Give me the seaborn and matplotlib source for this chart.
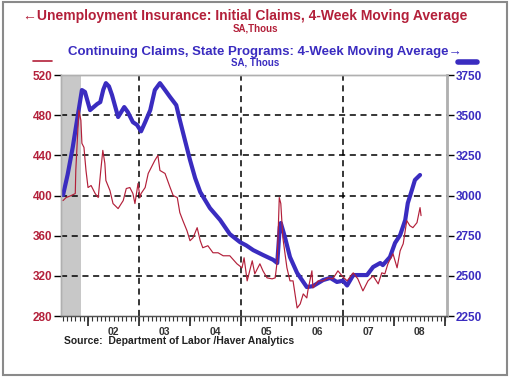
import numpy as np
import pandas as pd
import matplotlib
matplotlib.use("Agg")
import matplotlib.pyplot as plt
import seaborn as sns
from matplotlib.ticker import FixedLocator, MultipleLocator, NullFormatter

# Initial claims, 4-week moving average (thous, left axis), dates as decimal years
initial_dates = [
    2001.51, 2001.57, 2001.67, 2001.75, 2001.76, 2001.82, 2001.86, 2001.88, 2001.92, 2001.96,
    2002.00, 2002.06, 2002.14, 2002.20, 2002.25, 2002.29, 2002.33, 2002.35, 2002.43, 2002.49,
    2002.59, 2002.69, 2002.75, 2002.82, 2002.88, 2002.92, 2002.98, 2003.02, 2003.04, 2003.12,
    2003.18, 2003.24, 2003.31, 2003.37, 2003.41, 2003.51, 2003.61, 2003.67, 2003.75, 2003.80,
    2003.86, 2003.94, 2004.00, 2004.06, 2004.14, 2004.20, 2004.25, 2004.35, 2004.45, 2004.55,
    2004.65, 2004.78, 2004.92, 2005.02, 2005.06, 2005.12, 2005.22, 2005.27, 2005.37, 2005.43,
    2005.51, 2005.61, 2005.67, 2005.71, 2005.75, 2005.78, 2005.82, 2005.90, 2005.96, 2006.02,
    2006.10, 2006.16, 2006.22, 2006.29, 2006.31, 2006.39, 2006.41, 2006.51, 2006.61, 2006.71,
    2006.80, 2006.90, 2006.98, 2007.08, 2007.20, 2007.29, 2007.39, 2007.49, 2007.59, 2007.69,
    2007.76, 2007.82, 2007.88, 2007.98, 2008.06, 2008.12, 2008.18, 2008.25, 2008.31, 2008.37,
    2008.45, 2008.51, 2008.53,
]
initial_claims = [
    395, 398, 400, 402, 425, 485, 475, 452, 448, 425,
    408, 410, 402, 398, 425, 445, 432, 415, 405, 392,
    387, 395, 407, 408, 402, 392, 412, 398, 402, 408,
    422, 428, 435, 440, 425, 422, 408, 400, 398, 383,
    375, 365, 355, 358, 368, 355, 348, 350, 343, 343,
    340, 340, 332, 328, 338, 315, 335, 322, 332, 325,
    318, 317, 318, 335, 398, 392, 358, 328, 315, 315,
    288, 292, 302, 298, 305, 325, 308, 315, 315, 318,
    317, 325, 320, 315, 323, 317, 305, 315, 320, 312,
    323, 322, 332, 342, 328, 345, 352, 375, 370, 368,
    373, 388, 380,
]

# Continuing claims, state programs, 4-week moving average (thous, right axis)
continuing_dates = [
    2001.51, 2001.60, 2001.70, 2001.80, 2001.88, 2001.94, 2002.04, 2002.18, 2002.24, 2002.30,
    2002.35, 2002.41, 2002.47, 2002.59, 2002.71, 2002.78, 2002.88, 2002.96, 2003.04, 2003.12,
    2003.22, 2003.31, 2003.41, 2003.51, 2003.61, 2003.73, 2003.80, 2003.90, 2004.00, 2004.10,
    2004.20, 2004.39, 2004.59, 2004.78, 2004.98, 2005.10, 2005.24, 2005.43, 2005.63, 2005.71,
    2005.76, 2005.78, 2005.86, 2005.96, 2006.10, 2006.29, 2006.41, 2006.61, 2006.75, 2006.88,
    2007.00, 2007.08, 2007.20, 2007.47, 2007.59, 2007.73, 2007.78, 2007.92, 2008.02, 2008.12,
    2008.22, 2008.27, 2008.35, 2008.41, 2008.51,
]
continuing_claims = [
    3003, 3130, 3300, 3500, 3657, 3645, 3532, 3570, 3582, 3660,
    3700, 3680, 3626, 3489, 3551, 3520, 3457, 3440, 3400, 3457,
    3532, 3657, 3700, 3657, 3613, 3563, 3470, 3345, 3221, 3109,
    3022, 2922, 2848, 2760, 2710, 2690, 2660, 2630, 2600, 2580,
    2804, 2829, 2742, 2617, 2518, 2430, 2436, 2474, 2487, 2462,
    2470, 2440, 2505, 2505, 2555, 2580, 2567, 2617, 2705, 2754,
    2848, 2953, 3034, 3097, 3128,
]

recession = (2001.17, 2001.86)
year_labels = ["02", "03", "04", "05", "06", "07", "08"]
left_ticks = [280, 320, 360, 400, 440, 480, 520]
right_ticks = [2250, 2500, 2750, 3000, 3250, 3500, 3750]

red = "#b3203a"
blue = "#3a2cc0"

sns.set_style("white")
plt.rcParams["font.family"] = ["Liberation Sans", "DejaVu Sans"]

df_init = pd.DataFrame({"date": initial_dates, "claims": initial_claims})
df_cont = pd.DataFrame({"date": continuing_dates, "claims": continuing_claims})

fig = plt.figure(figsize=(5.1, 3.77), dpi=100)
ax = fig.add_axes([0.1196, 0.1618, 0.757, 0.639])
ax2 = ax.twinx()
ax.set_zorder(ax2.get_zorder() + 1)
ax.patch.set_visible(False)

sns.lineplot(data=df_cont, x="date", y="claims", ax=ax2, color=blue, lw=3.0, zorder=3)
sns.lineplot(data=df_init, x="date", y="claims", ax=ax, color=red, lw=0.85, zorder=4)

ax.set_xlim(2001.47, 2009.04)
ax.set_ylim(280, 520)
ax2.set_ylim(2250, 3750)
ax.set_xlabel("")
ax.set_ylabel("")
ax2.set_ylabel("")

# background elements on the lower (right-scale) axes
ax2.axvspan(*recession, color="#c8c8c8", lw=0, zorder=0)
for yv in right_ticks[1:-1]:
    ax2.axhline(yv, color="black", lw=1.1, ls=(0, (4, 3)), zorder=1)
for xv in [2003, 2005, 2007]:
    ax2.axvline(xv, color="black", lw=1.1, ls=(0, (4, 3)), zorder=1)

ax.set_yticks(left_ticks)
ax2.set_yticks(right_ticks)
ax.tick_params(axis="y", left=True, colors="black", labelcolor=red, labelsize=8.5, length=5, width=1, pad=1)
ax2.tick_params(axis="y", right=True, colors="black", labelcolor=blue, labelsize=8.5, length=5, width=1, pad=1)
for lab in ax.get_yticklabels():
    lab.set_fontweight("bold")
for lab in ax2.get_yticklabels():
    lab.set_fontweight("bold")

for i, lab in enumerate(year_labels):
    ax.text(2002.5 + i, -0.045, lab, transform=ax.get_xaxis_transform(), ha="center", va="top",
            fontsize=7.5, color="#333333", fontweight="bold")

for a in (ax, ax2):
    for side, sp in a.spines.items():
        sp.set_color("#b0b0b0")
        sp.set_linewidth(1.0)
ax2.spines["right"].set_linewidth(2)
ax.spines["bottom"].set_color("#555555")
ax2.spines["bottom"].set_visible(False)

# x axis: year boundaries as long ticks, months as short ticks (secondary axis), labels mid-year
ax.xaxis.set_major_locator(FixedLocator(list(range(2002, 2010))))
ax.xaxis.set_major_formatter(NullFormatter())
ax.tick_params(axis="x", which="major", bottom=True, direction="out", length=7, width=1.3, colors="#333333")
months = ax.secondary_xaxis("bottom")
months.xaxis.set_major_locator(MultipleLocator(1 / 12))
months.xaxis.set_major_formatter(NullFormatter())
months.tick_params(axis="x", which="major", bottom=True, direction="out", length=3.5, width=0.8, colors="#333333")
months.spines["bottom"].set_color("#555555")

# titles
fig.text(0.48, 0.957, "\u2190Unemployment Insurance: Initial Claims, 4-Week Moving Average",
         ha="center", va="center", color=red, fontsize=10, fontweight="bold")
fig.text(0.5, 0.925, "SA,Thous", ha="center", va="center", color=red, fontsize=7, fontweight="bold")
fig.text(0.52, 0.862, "Continuing Claims, State Programs: 4-Week Moving Average\u2192",
         ha="center", va="center", color=blue, fontsize=9.5, fontweight="bold")
fig.text(0.5, 0.835, "SA, Thous", ha="center", va="center", color=blue, fontsize=7, fontweight="bold")
fig.add_artist(plt.Line2D([0.065, 0.102], [0.838, 0.838], color=red, lw=1.2))
fig.add_artist(plt.Line2D([0.898, 0.936], [0.836, 0.836], color=blue, lw=4, solid_capstyle="round"))

fig.text(0.125, 0.095, "Source:  Department of Labor /Haver Analytics", ha="left", va="center",
         color="#222222", fontsize=7.5, fontweight="bold")

fig.add_artist(plt.Rectangle((0.005, 0.006), 0.99, 0.988, transform=fig.transFigure,
                             fill=False, edgecolor="#8a8a8a", lw=1.5))

fig.savefig("out.png", dpi=100)
